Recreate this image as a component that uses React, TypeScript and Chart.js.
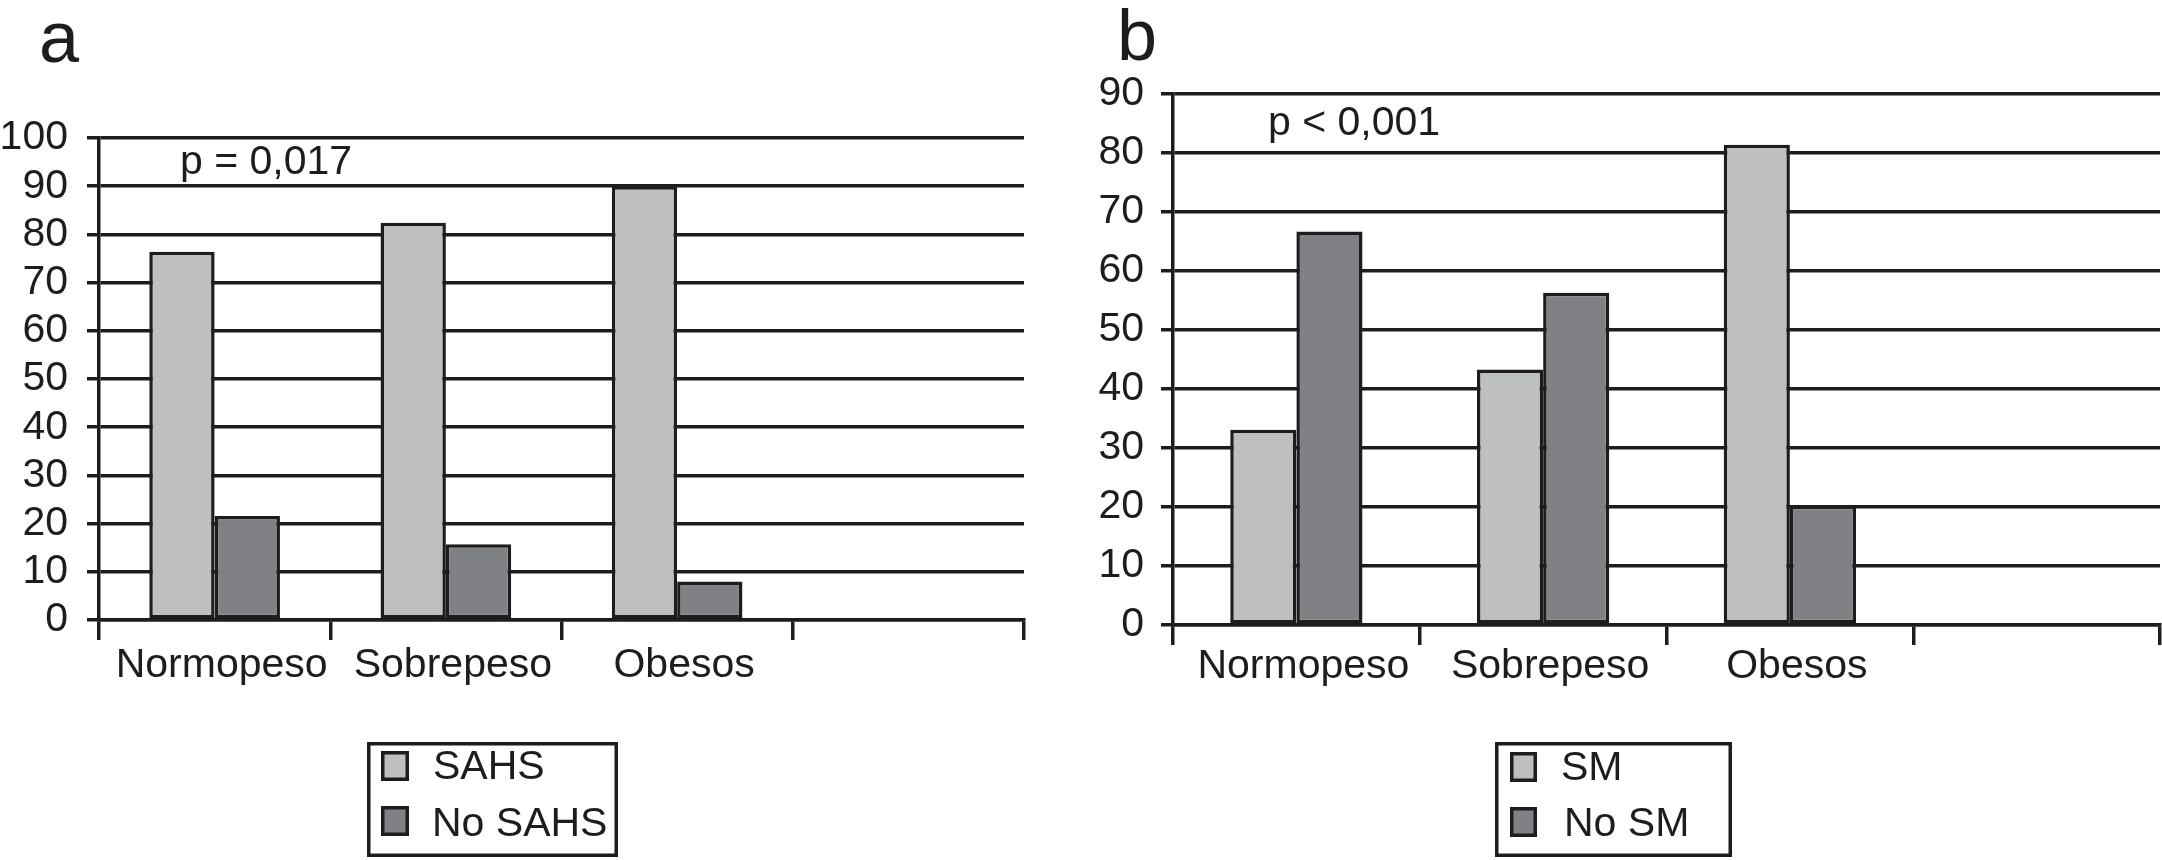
import React, { useEffect, useRef } from 'react';
import { Chart, registerables } from 'chart.js';

Chart.register(...registerables);

// ---------- data ----------
const categories = ['Normopeso', 'Sobrepeso', 'Obesos', ''];

const seriesLabelsA = ['SAHS', 'No SAHS'];
const sahsValues = [76.4, 82.4, 90.0];
const noSahsValues = [21.6, 15.7, 8.0];

const seriesLabelsB = ['SM', 'No SM'];
const smValues = [33.1, 43.3, 81.4];
const noSmValues = [66.7, 56.3, 20.2];

const yMaxA = 100;
const yMaxB = 90;
const yStep = 10;

const panelLetters = ['a', 'b'];
const pTextA = 'p = 0,017';
const pTextB = 'p < 0,001';

// ---------- styles ----------
const LIGHT = '#bebfc1';
const DARK = '#808185';
const INK = '#1f1c1d';
const FONT = '"Liberation Sans", Arial, Helvetica, sans-serif';
const FS = 41;
const LW = 3.5;

const decorPlugin = {
  id: 'decor',
  afterDraw(chart: any, _args: any, opts: any) {
    const ctx = chart.ctx as CanvasRenderingContext2D;
    const ca = chart.chartArea;
    ctx.save();
    ctx.fillStyle = INK;
    ctx.textAlign = 'left';
    ctx.textBaseline = 'alphabetic';
    // panel letter
    ctx.font = `${opts.letterSize}px ${FONT}`;
    ctx.fillText(opts.letter, opts.letterX, opts.letterY);
    // p value annotation
    ctx.font = `${FS}px ${FONT}`;
    const py = chart.scales.y.getPixelForValue(opts.pValue);
    ctx.fillText(opts.pText, ca.left + opts.pDx, py);
    // legend
    const L = opts.legend;
    ctx.lineWidth = LW;
    ctx.strokeStyle = INK;
    const h = LW / 2;
    ctx.strokeRect(L.left + h, L.top + h, L.right - L.left - LW, L.bottom - L.top - LW);
    chart.data.datasets.forEach((ds: any, i: number) => {
      const sy = L.swatchTop[i];
      ctx.fillStyle = ds.backgroundColor;
      ctx.fillRect(L.swatchLeft, sy, L.swatchW, L.swatchH);
      ctx.strokeRect(L.swatchLeft + h, sy + h, L.swatchW - LW, L.swatchH - LW);
      ctx.fillStyle = INK;
      ctx.font = `${FS}px ${FONT}`;
      ctx.fillText(ds.label, L.textX[i], L.baseline[i]);
    });
    ctx.restore();
  },
};

function makeConfig(p: any): any {
  return {
    type: 'bar',
    data: {
      labels: categories,
      datasets: [
        {
          label: p.labels[0],
          data: p.s1,
          backgroundColor: LIGHT,
          borderColor: INK,
          borderWidth: LW,
          borderSkipped: false,
        },
        {
          label: p.labels[1],
          data: p.s2,
          backgroundColor: DARK,
          borderColor: INK,
          borderWidth: LW,
          borderSkipped: false,
        },
      ],
    },
    options: {
      animation: false,
      responsive: false,
      devicePixelRatio: 1,
      layout: { padding: { top: p.padTop, left: 0, right: p.padRight, bottom: 0 } },
      datasets: { bar: { categoryPercentage: p.catPct, barPercentage: 1 } },
      plugins: {
        legend: { display: false },
        tooltip: { enabled: false },
        title: { display: false },
        decor: {
          letter: p.letter,
          letterSize: 72,
          letterX: p.letterX,
          letterY: p.letterY,
          pText: p.pText,
          pValue: p.pValue,
          pDx: p.pDx,
          legend: p.legend,
        },
      },
      scales: {
        x: {
          type: 'category',
          grid: {
            display: true,
            drawOnChartArea: false,
            drawTicks: true,
            offset: true,
            tickLength: 20,
            lineWidth: LW,
            color: INK,
          },
          border: { display: true, width: LW, color: INK },
          ticks: {
            color: INK,
            font: { family: FONT, size: FS },
            padding: p.xPad,
            labelOffset: 7,
            autoSkip: false,
            maxRotation: 0,
          },
          afterFit: (s: any) => {
            s.height = p.xHeight;
          },
        },
        y: {
          min: 0,
          max: p.yMax,
          grid: { color: INK, lineWidth: LW, tickLength: 12, drawTicks: true },
          border: { display: true, width: LW, color: INK },
          ticks: {
            stepSize: yStep,
            autoSkip: false,
            color: INK,
            font: { family: FONT, size: FS },
            padding: p.yPad,
          },
          afterFit: (s: any) => {
            s.width = p.yWidth;
          },
        },
      },
    },
    plugins: [decorPlugin],
  };
}

const W = 1081;
const H = 860;

const panelA = {
  labels: seriesLabelsA,
  s1: sahsValues,
  s2: noSahsValues,
  yMax: yMaxA,
  padTop: 138,
  padRight: W - 1024,
  yWidth: 99,
  xHeight: H - 620,
  catPct: 0.565,
  xPad: 1,
  yPad: 19,
  letter: panelLetters[0],
  letterX: 39,
  letterY: 62,
  pText: pTextA,
  pValue: 92.6,
  pDx: 81,
  legend: {
    left: 367,
    right: 618,
    top: 742,
    bottom: 857,
    swatchLeft: 381,
    swatchW: 28,
    swatchH: 30,
    swatchTop: [751, 806],
    textX: [433, 432],
    baseline: [779, 836],
  },
};

const panelB = {
  labels: seriesLabelsB,
  s1: smValues,
  s2: noSmValues,
  yMax: yMaxB,
  padTop: 94,
  padRight: W - 1079,
  yWidth: 92,
  xHeight: H - 625,
  catPct: 0.536,
  xPad: -3,
  yPad: 17,
  letter: panelLetters[1],
  letterX: 36,
  letterY: 60,
  pText: pTextB,
  pValue: 83.05,
  pDx: 95,
  legend: {
    left: 414,
    right: 651,
    top: 742,
    bottom: 857,
    swatchLeft: 429,
    swatchW: 27,
    swatchH: 30,
    swatchTop: [752, 807],
    textX: [480, 483],
    baseline: [780, 836],
  },
};

function Panel({ cfg, left }: { cfg: any; left: number }) {
  const ref = useRef<HTMLCanvasElement | null>(null);
  useEffect(() => {
    if (!ref.current) return;
    const chart = new Chart(ref.current, makeConfig(cfg));
    return () => chart.destroy();
  }, [cfg]);
  return (
    <canvas
      ref={ref}
      width={W}
      height={H}
      style={{ position: 'absolute', left, top: 0, width: W, height: H }}
    />
  );
}

export default function App() {
  return (
    <div
      style={{
        position: 'absolute',
        left: 0,
        top: 0,
        width: 2162,
        height: 860,
        background: '#ffffff',
        overflow: 'hidden',
      }}
    >
      <Panel cfg={panelA} left={0} />
      <Panel cfg={panelB} left={W} />
    </div>
  );
}
